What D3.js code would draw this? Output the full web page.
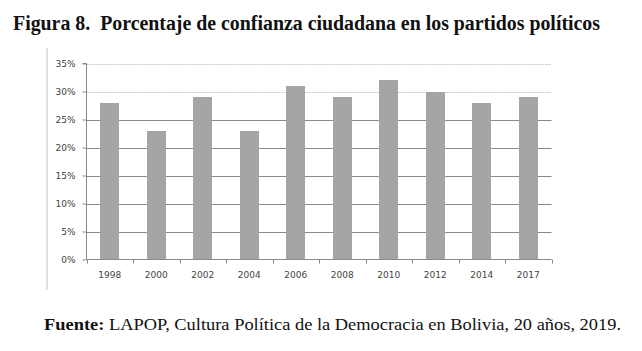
<!DOCTYPE html>
<html>
<head>
<meta charset="utf-8">
<script src="https://cdn.jsdelivr.net/npm/d3@7"></script>
<style>
  body { margin: 0; background: #fff; }
  svg { display: block; }
</style>
</head>
<body>
<div id="chart"></div>
<script>
const years = ['1998', '2000', '2002', '2004', '2006', '2008', '2010', '2012', '2014', '2017']
const confianza = [28, 23, 29, 23, 31, 29, 32, 30, 28, 29]
const yTicks = [0, 5, 10, 15, 20, 25, 30, 35]

const width = 642
const height = 351
const plot = { left: 86.5, right: 551.5, top: 63.5, bottom: 259.5 }

const svg = d3.select('#chart').append('svg')
  .attr('width', width)
  .attr('height', height)

// --- title ---
svg.append('text')
  .attr('x', 13)
  .attr('y', 30)
  .attr('font-family', 'Liberation Serif, Times New Roman, serif')
  .attr('font-weight', 'bold')
  .attr('font-size', 20)
  .attr('fill', '#111')
  .attr('textLength', 587)
  .attr('lengthAdjust', 'spacingAndGlyphs')
  .attr('xml:space', 'preserve')
  .text('Figura 8.  Porcentaje de confianza ciudadana en los partidos políticos')

// --- chart frame (left edge only visible) ---
svg.append('line')
  .attr('x1', 47).attr('x2', 47)
  .attr('y1', 48).attr('y2', 290)
  .attr('stroke', '#c4bccb')
  .attr('stroke-width', 1)

const x = d3.scaleBand()
  .domain(years)
  .range([plot.left, plot.right])
  .paddingInner(0.6)
  .paddingOuter(0.3)

const y = d3.scaleLinear()
  .domain([0, 35])
  .range([plot.bottom, plot.top])

// --- gridlines ---
svg.append('g')
  .selectAll('line')
  .data(yTicks.filter(d => d > 0))
  .join('line')
    .attr('x1', plot.left)
    .attr('x2', plot.right)
    .attr('y1', d => Math.round(y(d)) + 0.5)
    .attr('y2', d => Math.round(y(d)) + 0.5)
    .attr('stroke', d => d >= 30 ? '#d2bcd6' : '#8a8a8a')
    .attr('stroke-dasharray', d => d >= 30 ? '2,1' : null)
    .attr('stroke-width', 1)

// --- bars ---
svg.append('g')
  .selectAll('rect')
  .data(years)
  .join('rect')
    .attr('x', d => Math.round(x(d)))
    .attr('width', Math.round(x.bandwidth()))
    .attr('y', (d, i) => Math.round(y(confianza[i])))
    .attr('height', (d, i) => plot.bottom - Math.round(y(confianza[i])))
    .attr('fill', '#a5a4a6')

// --- y axis ---
const yAxis = d3.axisLeft(y)
  .tickValues(yTicks)
  .tickFormat(d => d + '%')
  .tickSize(4)
  .tickPadding(7)

const gy = svg.append('g')
  .attr('transform', `translate(${plot.left},0)`)
  .call(yAxis)
gy.select('.domain').attr('stroke', '#8a8a8a').attr('d', `M-4,${plot.top}H0V${plot.bottom}`)
gy.selectAll('.tick line').attr('stroke', '#8a8a8a')
gy.selectAll('.tick text')
  .attr('font-family', 'DejaVu Sans, Verdana, sans-serif')
  .attr('font-size', 9)
  .attr('fill', '#444')

// --- x axis ---
const xBounds = d3.range(years.length + 1).map(i => plot.left + i * x.step())
const gx = svg.append('g')
gx.append('line')
  .attr('x1', plot.left).attr('x2', plot.right)
  .attr('y1', plot.bottom).attr('y2', plot.bottom)
  .attr('stroke', '#8a8a8a')
gx.selectAll('line.tk')
  .data(xBounds)
  .join('line')
    .attr('class', 'tk')
    .attr('x1', d => Math.round(d) + 0.5)
    .attr('x2', d => Math.round(d) + 0.5)
    .attr('y1', plot.bottom)
    .attr('y2', plot.bottom + 4)
    .attr('stroke', '#8a8a8a')
gx.selectAll('text')
  .data(years)
  .join('text')
    .attr('x', d => x(d) + x.bandwidth() / 2)
    .attr('y', 278)
    .attr('text-anchor', 'middle')
    .attr('font-family', 'DejaVu Sans, Verdana, sans-serif')
    .attr('font-size', 9)
    .attr('fill', '#444')
    .text(d => d)

// --- source ---
const src = svg.append('text')
  .attr('x', 44)
  .attr('y', 329.5)
  .attr('font-family', 'Liberation Serif, Times New Roman, serif')
  .attr('font-size', 16)
  .attr('fill', '#111')
  .attr('textLength', 577)
  .attr('lengthAdjust', 'spacingAndGlyphs')
src.append('tspan').attr('font-weight', 'bold').text('Fuente:')
src.append('tspan').text(' LAPOP, Cultura Política de la Democracia en Bolivia, 20 años, 2019.')
</script>
</body>
</html>
